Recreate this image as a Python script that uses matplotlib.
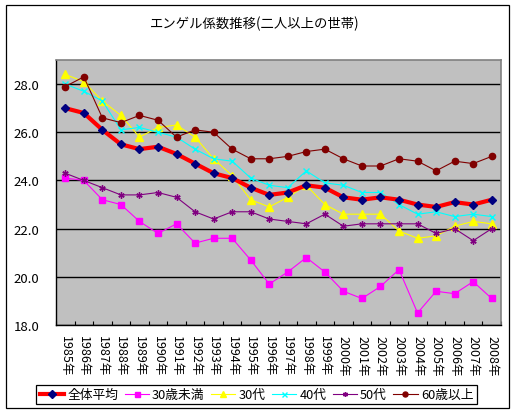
import numpy as np
import matplotlib
matplotlib.use('Agg')
import matplotlib.pyplot as plt
from matplotlib.patches import Rectangle

plt.rcParams['font.family'] = ['Noto Sans CJK JP', 'DejaVu Sans']

# データ
years = [str(y) + '年' for y in range(1985, 2009)]
avg_all = [27.0, 26.8, 26.1, 25.5, 25.3, 25.4, 25.1, 24.7, 24.3, 24.1, 23.7, 23.4,
           23.5, 23.8, 23.7, 23.3, 23.2, 23.3, 23.2, 23.0, 22.9, 23.1, 23.0, 23.2]
under30 = [24.1, 24.0, 23.2, 23.0, 22.3, 21.8, 22.2, 21.4, 21.6, 21.6, 20.7, 19.7,
           20.2, 20.8, 20.2, 19.4, 19.1, 19.6, 20.3, 18.5, 19.4, 19.3, 19.8, 19.1]
age30s = [28.4, 28.1, 27.3, 26.7, 25.8, 26.2, 26.3, 25.8, 24.9, 24.2, 23.2, 22.9,
          23.3, 23.8, 23.0, 22.6, 22.6, 22.6, 21.9, 21.6, 21.7, 22.1, 22.3, 22.2]
age40s = [28.0, 27.7, 27.3, 26.1, 26.2, 26.0, 25.8, 25.3, 24.9, 24.8, 24.1, 23.8,
          23.7, 24.4, 23.9, 23.8, 23.5, 23.5, 23.0, 22.6, 22.7, 22.5, 22.6, 22.5]
age50s = [24.3, 24.0, 23.7, 23.4, 23.4, 23.5, 23.3, 22.7, 22.4, 22.7, 22.7, 22.4,
          22.3, 22.2, 22.6, 22.1, 22.2, 22.2, 22.2, 22.2, 21.8, 22.0, 21.5, 22.0]
over60 = [27.9, 28.3, 26.6, 26.4, 26.7, 26.5, 25.8, 26.1, 26.0, 25.3, 24.9, 24.9,
          25.0, 25.2, 25.3, 24.9, 24.6, 24.6, 24.9, 24.8, 24.4, 24.8, 24.7, 25.0]
y_ticks = [18.0, 20.0, 22.0, 24.0, 26.0, 28.0]


def main():
    fig = plt.figure(figsize=(5.14, 4.14), dpi=100)
    fig.patch.set_facecolor('white')
    # グラフ全体の枠
    fig.patches.append(Rectangle((5.5 / 514, 5.5 / 414), 503 / 514, 403 / 414,
                                 transform=fig.transFigure, fill=False,
                                 edgecolor='black', linewidth=0.9))

    ax = fig.add_axes([56 / 514, 88 / 414, 445 / 514, 265 / 414])
    ax.set_facecolor('#C0C0C0')
    x = np.arange(len(years))

    ax.plot(x, avg_all, color='#FF0000', linewidth=3.0, marker='D', markersize=4.5,
            markerfacecolor='#000080', markeredgecolor='#000080', label='全体平均', zorder=5)
    ax.plot(x, under30, color='#FF00FF', linewidth=0.8, marker='s', markersize=4.5,
            markerfacecolor='#FF00FF', markeredgecolor='#FF00FF', label='30歳未満', zorder=3)
    ax.plot(x, age30s, color='#FFFF00', linewidth=0.8, marker='^', markersize=5.5,
            markerfacecolor='#FFFF00', markeredgecolor='#FFFF00', label='30代', zorder=3)
    ax.plot(x, age40s, color='#00FFFF', linewidth=0.8, marker='x', markersize=4.5,
            markeredgewidth=1.0, label='40代', zorder=3)
    ax.plot(x, age50s, color='#800080', linewidth=0.8, marker=(6, 2, 0), markersize=4.5,
            markeredgewidth=1.0, label='50代', zorder=3)
    ax.plot(x, over60, color='#800000', linewidth=0.8, marker='o', markersize=4.5,
            markerfacecolor='#800000', markeredgecolor='#800000', label='60歳以上', zorder=4)

    ax.set_xlim(-0.5, len(years) - 0.5)
    ax.set_ylim(18, 29)
    ax.set_yticks(y_ticks)
    ax.set_yticklabels(['%.1f' % v for v in y_ticks], fontsize=9.5)
    ax.set_xticks(x)
    ax.set_xticklabels(years, rotation=-90, fontsize=9, va='top', ha='center')
    ax.set_xticks(np.arange(-0.5, len(years), 1.0), minor=True)
    ax.tick_params(axis='x', which='major', length=0, pad=7)
    ax.tick_params(axis='x', which='minor', direction='in', length=3, width=0.8)
    ax.tick_params(axis='y', length=0, pad=12)

    ax.grid(axis='y', color='black', linewidth=1.0)
    ax.set_axisbelow(True)
    for side in ['top', 'right']:
        ax.spines[side].set_color('#808080')
        ax.spines[side].set_linewidth(1.2)
    for side in ['left', 'bottom']:
        ax.spines[side].set_color('black')
        ax.spines[side].set_linewidth(1.0)

    fig.text(0.496, 0.942, 'エンゲル係数推移(二人以上の世帯)', ha='center', va='center',
             fontsize=9.6)

    leg = fig.legend(loc='center', bbox_to_anchor=(0.499, 0.0447), ncol=6, fontsize=9.2,
                     frameon=True, fancybox=False, edgecolor='black', framealpha=1,
                     handlelength=1.9, handletextpad=0.25, columnspacing=0.5,
                     borderpad=0.25, borderaxespad=0, markerscale=0.8)
    leg.get_frame().set_linewidth(0.9)

    fig.savefig('out.png', dpi=100)


if __name__ == "__main__":
    main()
